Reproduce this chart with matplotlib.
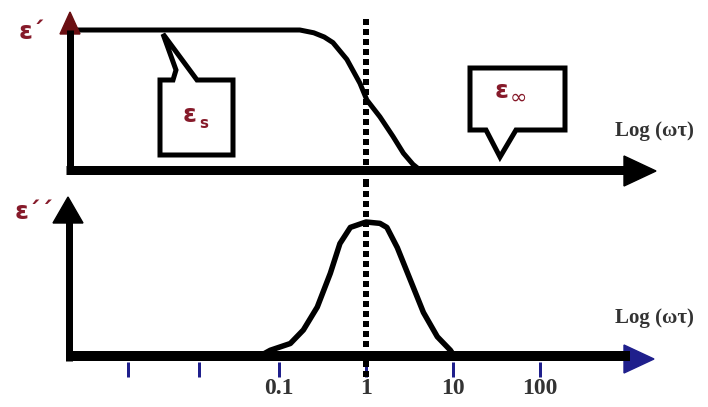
import matplotlib.pyplot as plt
import numpy as np
from matplotlib.patches import Polygon
from matplotlib.ticker import NullLocator

plt.rcParams['lines.scale_dashes'] = False

# values, x as log10(omega*tau)
eps1_logwt = [-3.40, -0.76, -0.60, -0.48, -0.38, -0.22, -0.07, 0.01, 0.16, 0.31, 0.43, 0.54, 0.62]
eps1_vals = [1.0, 1.0, 0.98, 0.95, 0.91, 0.79, 0.62, 0.50, 0.38, 0.24, 0.12, 0.04, 0.0]

eps2_logwt = [-1.24, -1.10, -0.87, -0.72, -0.56, -0.41, -0.30, -0.18, 0.0,
              0.16, 0.24, 0.36, 0.51, 0.66, 0.82, 0.97, 1.02]
eps2_vals = [0.0, 0.05, 0.10, 0.20, 0.37, 0.62, 0.84, 0.96, 1.0,
             0.99, 0.96, 0.81, 0.57, 0.33, 0.15, 0.05, 0.0]

tick_logwt = [-2.74, -1.92, -1, 0, 1, 2]
tick_labels = ['', '', '0.1', '1', '10', '100']

W, H = 708, 407
px = 72 / 100  # points per pixel
dark_red = '#861a2a'
navy = '#1f1f8c'
grey = '#333333'
serif = 'Liberation Serif'

fig = plt.figure(figsize=(W / 100, H / 100), dpi=100)
xlim = (10 ** (-366 / 87), 10 ** ((W - 366) / 87))

# upper panel: epsilon'
ax1 = fig.add_axes([0, 1 - 185 / H, 1, 185 / H])
ax1.set_xscale('log')
ax1.set_xlim(xlim)
ax1.set_ylim(-15 / 140, 170 / 140)
ax1.axis('off')
ax1.plot(10 ** np.array(eps1_logwt), eps1_vals, color='black', lw=5 * px,
         solid_joinstyle='round', solid_capstyle='butt', clip_on=False)
ax1.axvline(1, ymin=0, ymax=1 - 15 / 185, color='black', lw=6 * px,
            dashes=(6 * px, 4 * px), clip_on=False)

# lower panel: epsilon''
ax2 = fig.add_axes([0, (H - 362) / H, 1, (362 - 185) / H])
ax2.set_xscale('log')
ax2.set_xlim(xlim)
ax2.set_ylim(-5 / 135, 172 / 135)
ax2.set_frame_on(False)
ax2.set_yticks([])
ax2.xaxis.set_minor_locator(NullLocator())
ax2.set_xticks(10 ** np.array(tick_logwt, dtype=float))
ax2.set_xticklabels(tick_labels, fontfamily=serif, fontweight='bold',
                    fontsize=17, color=grey)
ax2.tick_params(axis='x', direction='out', length=15 * px, width=3 * px,
                color=navy, pad=1)
ax2.plot(10 ** np.array(eps2_logwt), eps2_vals, color='black', lw=5.5 * px,
         solid_joinstyle='round', clip_on=False)
ax2.axvline(1, ymin=(362 - 377) / 177, ymax=1, color='black', lw=6 * px,
            dashes=(6 * px, 4 * px), clip_on=False)

# overlay in pixel units for the sketch decorations
ov = fig.add_axes([0, 0, 1, 1], zorder=5)
ov.set_xlim(0, W)
ov.set_ylim(H, 0)
ov.axis('off')

# axes with arrow heads
ov.plot([66, 630], [170, 170], color='black', lw=9 * px, solid_capstyle='butt')
ov.add_patch(Polygon([(624, 156), (656, 171), (624, 186)], closed=True, color='black'))
ov.plot([70, 70], [174, 30], color='black', lw=7 * px, solid_capstyle='butt')
ov.add_patch(Polygon([(60, 34), (70, 12), (80, 34)], closed=True, color='#6a0f12'))

ov.plot([66, 630], [356, 356], color='black', lw=10 * px, solid_capstyle='butt')
ov.add_patch(Polygon([(624, 345), (654, 359), (624, 373)], closed=True, color=navy))
ov.plot([69, 69], [361, 215], color='black', lw=7 * px, solid_capstyle='butt')
ov.add_patch(Polygon([(53, 223), (68, 197), (83, 223)], closed=True, color='black'))

# callouts
ov.add_patch(Polygon([(160, 80), (173, 80), (176, 70), (163, 34), (197, 80),
                      (233, 80), (233, 155), (160, 155)], closed=True,
                     facecolor='white', edgecolor='black', lw=5 * px,
                     joinstyle='miter'))
ov.add_patch(Polygon([(470, 68), (565, 68), (565, 130), (516, 130), (500, 157),
                      (486, 130), (470, 130)], closed=True,
                     facecolor='white', edgecolor='black', lw=5 * px,
                     joinstyle='miter'))

ov.text(190, 115, 'ε', color=dark_red, fontsize=18, fontweight='bold',
        ha='center', va='center')
ov.text(204, 123, 's', color=dark_red, fontsize=11, fontweight='bold',
        ha='center', va='center')
ov.text(502, 91, 'ε', color=dark_red, fontsize=18, fontweight='bold',
        ha='center', va='center')
ov.text(518, 98, '∞', color=dark_red, fontsize=15, ha='center', va='center')
ov.text(32, 32, 'ε´', color=dark_red, fontsize=18, fontweight='bold',
        ha='center', va='center')
ov.text(34, 212, 'ε´´', color=dark_red, fontsize=18, fontweight='bold',
        ha='center', va='center')

ov.text(654, 131, 'Log (ωτ)', fontfamily=serif, fontweight='bold', fontsize=15,
        color=grey, ha='center', va='center')
ov.text(654, 318, 'Log (ωτ)', fontfamily=serif, fontweight='bold', fontsize=15,
        color=grey, ha='center', va='center')

fig.savefig('out.png', dpi=100)
